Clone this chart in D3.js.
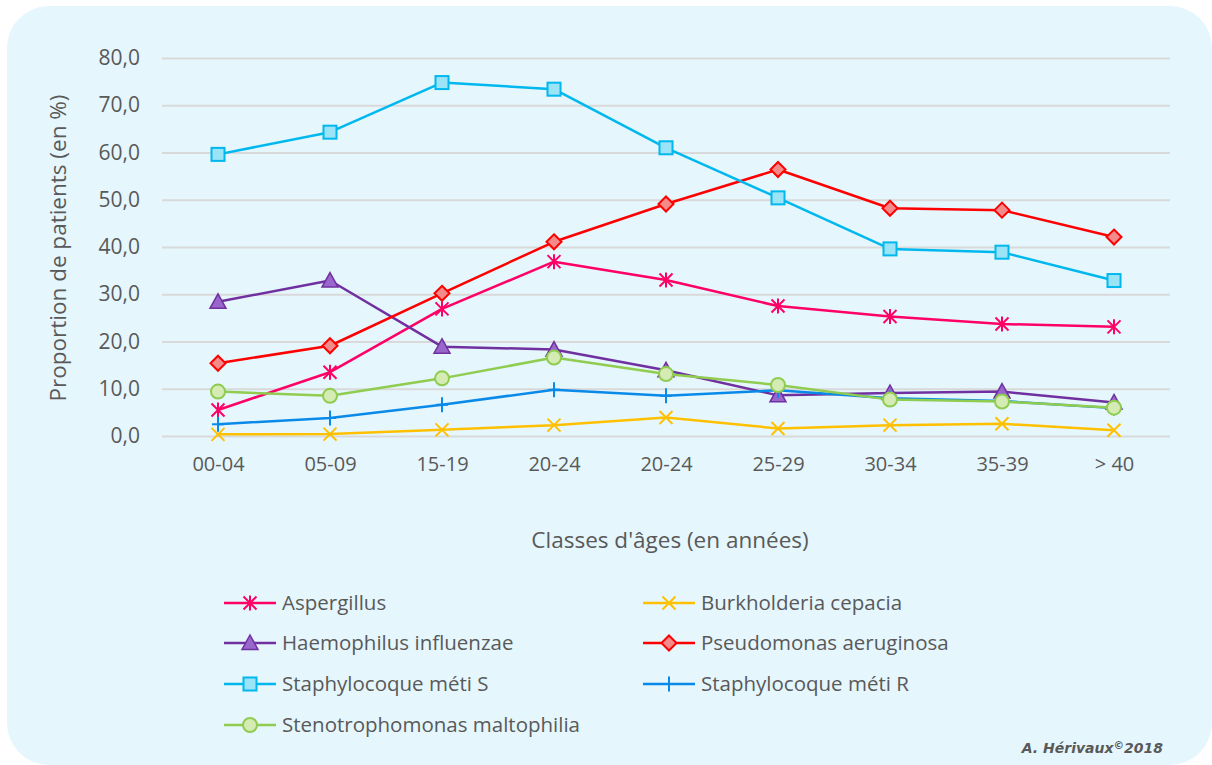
<!DOCTYPE html>
<html><head><meta charset="utf-8">
<script src="https://cdn.jsdelivr.net/npm/d3@7"></script>
<style>
html,body{margin:0;padding:0;background:#fff;}
svg{display:block;}
</style></head>
<body>
<svg id="chart" width="1212" height="765"></svg>
<script>
const categories = ["00-04","05-09","15-19","20-24","20-24","25-29","30-34","35-39","> 40"];
const yTicks = [0,10,20,30,40,50,60,70,80];
const aspergillus   = [5.5,13.5,26.9,36.9,33.0,27.5,25.3,23.7,23.1];
const burkholderia  = [0.35,0.4,1.3,2.3,3.9,1.6,2.3,2.6,1.2];
const haemophilus   = [28.4,32.9,18.9,18.3,13.9,8.6,9.1,9.4,7.1];
const pseudomonas   = [15.4,19.1,30.2,41.1,49.1,56.4,48.2,47.8,42.1];
const staphS        = [59.6,64.3,74.8,73.4,61.0,50.4,39.6,38.9,32.9];
const staphR        = [2.5,3.8,6.6,9.8,8.5,9.7,8.0,7.4,5.9];
const stenotropho   = [9.4,8.5,12.2,16.6,13.1,10.8,7.7,7.3,6.0];
const seriesNames = ["Aspergillus","Burkholderia cepacia","Haemophilus influenzae","Pseudomonas aeruginosa","Staphylocoque méti S","Staphylocoque méti R","Stenotrophomonas maltophilia"];

const series = [
  {name:seriesNames[0], values:aspergillus,  stroke:"#FF0066", fill:"none",    marker:"asterisk"},
  {name:seriesNames[1], values:burkholderia, stroke:"#FFC000", fill:"none",    marker:"x"},
  {name:seriesNames[2], values:haemophilus,  stroke:"#7030A0", fill:"#9966CC", marker:"triangle"},
  {name:seriesNames[3], values:pseudomonas,  stroke:"#FF0000", fill:"#F48A8A", marker:"diamond"},
  {name:seriesNames[4], values:staphS,       stroke:"#00B8EE", fill:"#9BE4F8", marker:"square"},
  {name:seriesNames[5], values:staphR,       stroke:"#0A8AE8", fill:"none",    marker:"plus"},
  {name:seriesNames[6], values:stenotropho,  stroke:"#8FCC50", fill:"#D4ECB4", marker:"circle"}
];

const svg = d3.select("#chart");
const FONT = "'Open Sans', 'Noto Sans', sans-serif";
const TXT = "#595959";

// panel background
svg.append("rect").attr("x",7).attr("y",6).attr("width",1205).attr("height",759)
  .attr("rx",42).attr("ry",42).attr("fill","#E5F6FD");

const x = d3.scalePoint().domain(d3.range(categories.length)).range([162,1170]).padding(0.5);
const y = d3.scaleLinear().domain([0,80]).range([436,58]);

// y axis + gridlines
const yAxis = svg.append("g").attr("transform","translate(162,0)")
  .call(d3.axisLeft(y).tickValues(yTicks).tickSizeInner(-1008).tickSizeOuter(0).tickPadding(22)
    .tickFormat(d => d.toFixed(1).replace(".",",")));
yAxis.select(".domain").remove();
yAxis.selectAll(".tick line").attr("stroke","#D9D9D9").attr("stroke-width",2);
yAxis.selectAll(".tick text").attr("fill",TXT).style("font-family",FONT).style("font-size","21px");

// x axis labels
const xAxis = svg.append("g").attr("transform","translate(0,436)")
  .call(d3.axisBottom(x).tickSize(0).tickPadding(21).tickFormat(i => categories[i]));
xAxis.select(".domain").remove();
xAxis.selectAll(".tick text").attr("fill",TXT).style("font-family",FONT).style("font-size","20px");

// axis titles
svg.append("text").attr("transform","translate(66,248) rotate(-90)").attr("text-anchor","middle")
  .attr("fill",TXT).style("font-family",FONT).style("font-size","22.5px").text("Proportion de patients (en %)");
svg.append("text").attr("x",670).attr("y",548).attr("text-anchor","middle")
  .attr("fill",TXT).style("font-family",FONT).style("font-size","22.5px").text("Classes d'âges (en années)");

function drawMarker(g, type, cx, cy, stroke, fill) {
  const s = 6.5;
  if (type === "square") {
    g.append("rect").attr("x",cx-s).attr("y",cy-s).attr("width",2*s).attr("height",2*s)
      .attr("fill",fill).attr("stroke",stroke).attr("stroke-width",2);
  } else if (type === "diamond") {
    g.append("path").attr("d",`M${cx},${cy-7.5}L${cx+7.5},${cy}L${cx},${cy+7.5}L${cx-7.5},${cy}Z`)
      .attr("fill",fill).attr("stroke",stroke).attr("stroke-width",2);
  } else if (type === "triangle") {
    g.append("path").attr("d",`M${cx},${cy-8}L${cx+8},${cy+6.5}L${cx-8},${cy+6.5}Z`)
      .attr("fill",fill).attr("stroke",stroke).attr("stroke-width",1.5);
  } else if (type === "circle") {
    g.append("circle").attr("cx",cx).attr("cy",cy).attr("r",7)
      .attr("fill",fill).attr("stroke",stroke).attr("stroke-width",2);
  } else if (type === "x") {
    g.append("path").attr("d",`M${cx-s},${cy-s}L${cx+s},${cy+s}M${cx+s},${cy-s}L${cx-s},${cy+s}`)
      .attr("stroke",stroke).attr("stroke-width",2).attr("fill","none");
  } else if (type === "asterisk") {
    g.append("path").attr("d",`M${cx-s},${cy-s}L${cx+s},${cy+s}M${cx+s},${cy-s}L${cx-s},${cy+s}M${cx},${cy-7.5}L${cx},${cy+7.5}`)
      .attr("stroke",stroke).attr("stroke-width",2).attr("fill","none");
  } else if (type === "plus") {
    g.append("path").attr("d",`M${cx-6},${cy}L${cx+6},${cy}M${cx},${cy-7.5}L${cx},${cy+7.5}`)
      .attr("stroke",stroke).attr("stroke-width",2).attr("fill","none");
  }
}

const line = d3.line().x((d,i) => x(i)).y(d => y(d));
series.forEach(s => {
  const g = svg.append("g");
  g.append("path").datum(s.values).attr("d",line).attr("fill","none")
    .attr("stroke",s.stroke).attr("stroke-width",2.5).attr("stroke-linejoin","round");
  s.values.forEach((v,i) => drawMarker(g, s.marker, x(i), y(v), s.stroke, s.fill));
});

// legend
const legCols = [224, 643];
const legRows = [603, 643, 684, 725];
series.forEach((s,k) => {
  const lx = legCols[k % 2], ly = legRows[Math.floor(k/2)];
  const g = svg.append("g");
  g.append("line").attr("x1",lx).attr("x2",lx+52).attr("y1",ly).attr("y2",ly)
    .attr("stroke",s.stroke).attr("stroke-width",2.5);
  drawMarker(g, s.marker, lx+26, ly, s.stroke, s.fill);
  g.append("text").attr("x",lx+58).attr("y",ly).attr("dy","0.35em")
    .attr("fill",TXT).style("font-family",FONT).style("font-size","20.5px").text(s.name);
});

// credit
const cr = svg.append("text").attr("x",1163).attr("y",753).attr("text-anchor","end")
  .attr("fill",TXT).style("font-family","'DejaVu Sans', sans-serif").style("font-size","14px")
  .style("font-weight","bold").style("font-style","italic");
cr.append("tspan").text("A. Hérivaux");
cr.append("tspan").attr("dy",-4).style("font-size","10.5px").text("©");
cr.append("tspan").attr("dy",4).text("2018");
</script>
</body></html>
